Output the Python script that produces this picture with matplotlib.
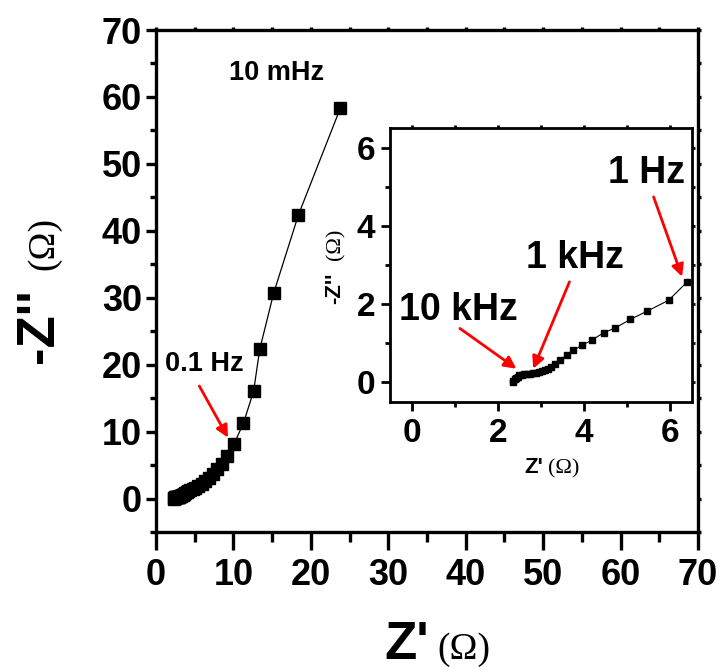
import numpy as np
import matplotlib.pyplot as plt

# Годограф импеданса: высокочастотная часть (10 кГц ... 1 Гц)
z_re_hf = [2.34, 2.36, 2.39, 2.42, 2.46, 2.50, 2.55, 2.61, 2.67, 2.74,
           2.81, 2.88, 2.95, 3.02, 3.09, 3.16, 3.23, 3.33, 3.44, 3.60,
           3.75, 3.95, 4.18, 4.45, 4.72, 5.07, 5.46, 5.96, 6.39]
z_im_hf = [0.00, 0.04, 0.08, 0.12, 0.15, 0.18, 0.20, 0.21, 0.22, 0.22,
           0.23, 0.24, 0.26, 0.28, 0.31, 0.35, 0.39, 0.48, 0.58, 0.69,
           0.82, 0.95, 1.08, 1.27, 1.39, 1.61, 1.82, 2.10, 2.57]

# Низкочастотная часть (ниже 1 Гц ... 10 мГц)
z_re_lf = [6.9, 7.4, 7.9, 8.5, 9.2, 10.1, 11.3, 12.6, 13.4, 15.2, 18.4, 23.8]
z_im_lf = [3.1, 3.7, 4.4, 5.2, 6.3, 8.2, 11.3, 16.0, 22.3, 30.7, 42.4, 58.3]

main_ticks = [0, 10, 20, 30, 40, 50, 60, 70]
inset_ticks = [0, 2, 4, 6]

W, H = 722, 671

plt.rcParams['font.family'] = ['Liberation Sans', 'DejaVu Sans']
plt.rcParams['font.weight'] = 'bold'


def style_axes(ax, lw, label_size, major_len, minor_len, pad_x, pad_y, y_major_len, y_minor_len):
    for s in ax.spines.values():
        s.set_linewidth(lw)
    ax.tick_params(axis='both', which='both', direction='out', width=lw,
                   labelsize=label_size, top=True, right=True)
    ax.tick_params(axis='x', which='major', length=major_len, pad=pad_x)
    ax.tick_params(axis='x', which='minor', length=minor_len)
    ax.tick_params(axis='y', which='major', length=y_major_len, pad=pad_y)
    ax.tick_params(axis='y', which='minor', length=y_minor_len)
    ax.tick_params(axis='both', which='both', labeltop=False, labelright=False)
    # верхние и правые штрихи почти не видны
    for t in ax.xaxis.get_ticklines(minor=False)[1::2] + ax.xaxis.get_ticklines(minor=True)[1::2]:
        t.set_markersize(2)
    for t in ax.yaxis.get_ticklines(minor=False)[1::2] + ax.yaxis.get_ticklines(minor=True)[1::2]:
        t.set_markersize(2)


def unit_label(fig, x_px, y_px, name, name_size, unit_size, gap, vertical=False):
    # подпись оси: жирное имя + (Ω) шрифтом с засечками
    fx, fy = x_px / W, 1 - y_px / H
    rot = 90 if vertical else 0
    fig.text(fx, fy, name, rotation=rot, rotation_mode='anchor', ha='right',
             va='baseline', fontsize=name_size, fontweight='bold')
    if vertical:
        ux, uy = fx, fy + gap / H
    else:
        ux, uy = fx + gap / W, fy
    fig.text(ux, uy, '(\u03a9)', rotation=rot, rotation_mode='anchor', ha='left',
             va='baseline', fontsize=unit_size, fontweight='normal',
             family='Liberation Serif')


fig = plt.figure(figsize=(W / 100, H / 100), dpi=100)

# Основной график
ax = fig.add_axes([156 / W, 1 - 532 / H, (698 - 156) / W, (532 - 30) / H])
z_re = z_re_hf + z_re_lf
z_im = z_im_hf + z_im_lf
ax.plot(z_re, z_im, '-', color='black', lw=0.9)
ax.plot(z_re, z_im, 's', color='black', ms=8.5)
ax.set_xlim(0, 70)
ax.set_ylim(-5, 70)
ax.set_xticks(main_ticks)
ax.set_yticks(main_ticks)
ax.set_xticks(np.arange(5, 70, 10), minor=True)
ax.set_yticks(np.arange(-5, 70, 10), minor=True)
style_axes(ax, 2.4, 26, 13, 7, 6, 3, 7, 4)

ax.text(15.6, 62.5, '10 mHz', ha='center', va='baseline', fontsize=19.5, fontweight='bold')
ax.text(6.2, 19.0, '0.1 Hz', ha='center', va='baseline', fontsize=19.5, fontweight='bold')
ax.annotate('', xy=(9.3, 9.1), xytext=(5.6, 16.8),
            arrowprops=dict(arrowstyle='-|>', color='red', lw=2,
                            mutation_scale=18, shrinkA=0, shrinkB=0))

unit_label(fig, 429, 659, "Z'", 38, 27, 8)
unit_label(fig, 53, 288, "-Z''", 38, 27, 18, vertical=True)

# Вставка: высокочастотная область
ins = fig.add_axes([390 / W, 1 - 402 / H, (692 - 390) / W, (402 - 128) / H])
ins.plot(z_re_hf, z_im_hf, '-', color='black', lw=0.8)
ins.plot(z_re_hf, z_im_hf, 's', color='black', ms=3.8)
ins.set_xlim(-0.5, 6.5)
ins.set_ylim(-0.5, 6.5)
ins.set_xticks(inset_ticks)
ins.set_yticks(inset_ticks)
ins.set_xticks([1, 3, 5], minor=True)
ins.set_yticks([1, 3, 5], minor=True)
style_axes(ins, 2, 24, 6.5, 3.5, 5, 4, 6.5, 3.5)

ins.text(5.44, 5.10, '1 Hz', ha='center', va='baseline', fontsize=27, fontweight='bold')
ins.text(3.79, 2.92, '1 kHz', ha='center', va='baseline', fontsize=27, fontweight='bold')
ins.text(1.09, 1.59, '10 kHz', ha='center', va='baseline', fontsize=27, fontweight='bold')
arrows = [((6.27, 2.70), (5.61, 4.74)),
          ((2.82, 0.35), (3.66, 2.57)),
          ((2.43, 0.35), (1.12, 1.38))]
for tip, start in arrows:
    ins.annotate('', xy=tip, xytext=start,
                 arrowprops=dict(arrowstyle='-|>', color='red', lw=2,
                                 mutation_scale=18, shrinkA=0, shrinkB=0))

unit_label(fig, 543, 473, "Z'", 16, 16, 5)
unit_label(fig, 340, 273, "-Z''", 16, 16, 13, vertical=True)

fig.savefig('out.png', dpi=100)
